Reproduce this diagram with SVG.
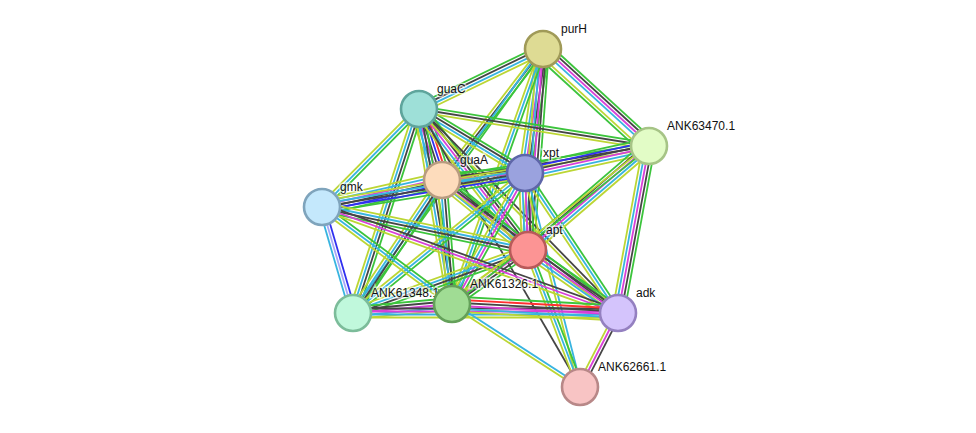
<svg xmlns="http://www.w3.org/2000/svg" xmlns:xlink="http://www.w3.org/1999/xlink" width="976" height="433" viewBox="0 0 976 433">
<style>
use{stroke-width:1.8;fill:none}
.nb{stroke:#3cc43c}.fu{stroke:#ff3030}.co{stroke:#3030f0}.ex{stroke:#454545}.ep{stroke:#d840d8}.db{stroke:#38b4e0}.tm{stroke:#bcd634}.ho{stroke:#a8a8f8}
.node circle{stroke-width:2.6}
.node text{font-family:"Liberation Sans",Arial,sans-serif;font-size:12px;fill:#111;stroke:#fff;stroke-width:3;stroke-opacity:0.6;paint-order:stroke}
</style>
<defs><line id="l" x1="0" y1="0" x2="1" y2="0"/></defs>
<rect width="976" height="433" fill="#fff"/>
<g id="edges">
<g transform="translate(419 109) rotate(-25.8) scale(137.8 1)"><use href="#l" class="nb" y="-4.5"/><use href="#l" class="ex" y="-1.5"/><use href="#l" class="db" y="1.5"/><use href="#l" class="tm" y="4.5"/></g>
<g transform="translate(543 49) rotate(42.5) scale(143.7 1)"><use href="#l" class="nb" y="-7.5"/><use href="#l" class="ex" y="-4.5"/><use href="#l" class="ep" y="-1.5"/><use href="#l" class="db" y="1.5"/><use href="#l" class="tm" y="6.5"/><use href="#l" class="nb" y="9.5"/></g>
<g transform="translate(543 49) rotate(98.3) scale(125.3 1)"><use href="#l" class="nb" y="-6"/><use href="#l" class="ex" y="-3"/><use href="#l" class="ep" y="0"/><use href="#l" class="db" y="3"/><use href="#l" class="tm" y="6"/></g>
<g transform="translate(543 49) rotate(94.3) scale(201.6 1)"><use href="#l" class="nb" y="-6"/><use href="#l" class="ex" y="-3"/><use href="#l" class="ep" y="0"/><use href="#l" class="db" y="3"/><use href="#l" class="tm" y="6"/></g>
<g transform="translate(543 49) rotate(127.6) scale(165.4 1)"><use href="#l" class="nb" y="-3"/><use href="#l" class="ex" y="0"/><use href="#l" class="tm" y="3"/></g>
<g transform="translate(543 49) rotate(109.6) scale(270.8 1)"><use href="#l" class="nb" y="-3"/><use href="#l" class="db" y="0"/><use href="#l" class="tm" y="3"/></g>
<g transform="translate(543 49) rotate(125.7) scale(325.3 1)"><use href="#l" class="nb" y="-1.5"/><use href="#l" class="db" y="1.5"/></g>
<g transform="translate(419 109) rotate(72.05) scale(74.6 1)"><use href="#l" class="nb" y="-9"/><use href="#l" class="fu" y="-6"/><use href="#l" class="co" y="-3"/><use href="#l" class="ex" y="0"/><use href="#l" class="ep" y="3"/><use href="#l" class="db" y="6"/><use href="#l" class="tm" y="9"/></g>
<g transform="translate(419 109) rotate(31.1) scale(123.8 1)"><use href="#l" class="nb" y="-4.5"/><use href="#l" class="ex" y="-1.5"/><use href="#l" class="db" y="1.5"/><use href="#l" class="tm" y="4.5"/></g>
<g transform="translate(419 109) rotate(9.14) scale(233 1)"><use href="#l" class="nb" y="-3"/><use href="#l" class="ex" y="0"/><use href="#l" class="tm" y="3"/></g>
<g transform="translate(419 109) rotate(134.7) scale(137.9 1)"><use href="#l" class="nb" y="-3"/><use href="#l" class="db" y="0"/><use href="#l" class="tm" y="3"/></g>
<g transform="translate(419 109) rotate(107.9) scale(214.4 1)"><use href="#l" class="nb" y="-4.5"/><use href="#l" class="ex" y="-1.5"/><use href="#l" class="db" y="1.5"/><use href="#l" class="tm" y="4.5"/></g>
<g transform="translate(419 109) rotate(80.4) scale(197.8 1)"><use href="#l" class="nb" y="-4.5"/><use href="#l" class="ex" y="-1.5"/><use href="#l" class="db" y="1.5"/><use href="#l" class="tm" y="4.5"/></g>
<g transform="translate(419 109) rotate(52.3) scale(178.2 1)"><use href="#l" class="nb" y="-6"/><use href="#l" class="ex" y="-3"/><use href="#l" class="ep" y="0"/><use href="#l" class="db" y="3"/><use href="#l" class="tm" y="6"/></g>
<g transform="translate(419 109) rotate(45.7) scale(285 1)"><use href="#l" class="ex" y="-1.5"/><use href="#l" class="tm" y="1.5"/></g>
<g transform="translate(419 109) rotate(59.9) scale(321.3 1)"><use href="#l" class="ex" y="0"/></g>
<g transform="translate(442 180) rotate(-4.8) scale(83.3 1)"><use href="#l" class="nb" y="-6"/><use href="#l" class="ex" y="-3"/><use href="#l" class="ep" y="0"/><use href="#l" class="db" y="3"/><use href="#l" class="tm" y="6"/></g>
<g transform="translate(442 180) rotate(167.3) scale(123 1)"><use href="#l" class="nb" y="-7.5"/><use href="#l" class="co" y="-4.5"/><use href="#l" class="ex" y="-1.5"/><use href="#l" class="ep" y="1.5"/><use href="#l" class="db" y="4.5"/><use href="#l" class="tm" y="7.5"/></g>
<g transform="translate(442 180) rotate(-9.33) scale(209.8 1)"><use href="#l" class="nb" y="-3"/><use href="#l" class="ex" y="0"/><use href="#l" class="tm" y="3"/></g>
<g transform="translate(442 180) rotate(39.15) scale(110.9 1)"><use href="#l" class="nb" y="-6"/><use href="#l" class="ex" y="-3"/><use href="#l" class="ep" y="0"/><use href="#l" class="db" y="3"/><use href="#l" class="tm" y="6"/></g>
<g transform="translate(442 180) rotate(123.8) scale(160 1)"><use href="#l" class="nb" y="-4.5"/><use href="#l" class="ex" y="-1.5"/><use href="#l" class="db" y="1.5"/><use href="#l" class="tm" y="4.5"/></g>
<g transform="translate(442 180) rotate(85.4) scale(124.4 1)"><use href="#l" class="nb" y="-4.5"/><use href="#l" class="ex" y="-1.5"/><use href="#l" class="db" y="1.5"/><use href="#l" class="tm" y="4.5"/></g>
<g transform="translate(442 180) rotate(37.07) scale(220.6 1)"><use href="#l" class="nb" y="-3"/><use href="#l" class="ex" y="0"/><use href="#l" class="tm" y="3"/></g>
<g transform="translate(525 173) rotate(-12.28) scale(126.9 1)"><use href="#l" class="nb" y="-7.5"/><use href="#l" class="co" y="-4.5"/><use href="#l" class="ex" y="-1.5"/><use href="#l" class="ep" y="1.5"/><use href="#l" class="db" y="4.5"/><use href="#l" class="tm" y="7.5"/></g>
<g transform="translate(525 173) rotate(87.8) scale(77.1 1)"><use href="#l" class="nb" y="-6"/><use href="#l" class="ex" y="-3"/><use href="#l" class="ep" y="0"/><use href="#l" class="db" y="3"/><use href="#l" class="tm" y="6"/></g>
<g transform="translate(525 173) rotate(170.5) scale(205.8 1)"><use href="#l" class="nb" y="-6"/><use href="#l" class="co" y="-3"/><use href="#l" class="ex" y="0"/><use href="#l" class="db" y="3"/><use href="#l" class="tm" y="6"/></g>
<g transform="translate(525 173) rotate(140.85) scale(221.8 1)"><use href="#l" class="nb" y="-3"/><use href="#l" class="db" y="0"/><use href="#l" class="tm" y="3"/></g>
<g transform="translate(525 173) rotate(119.1) scale(150 1)"><use href="#l" class="nb" y="-4.5"/><use href="#l" class="ep" y="-1.5"/><use href="#l" class="db" y="1.5"/><use href="#l" class="tm" y="4.5"/></g>
<g transform="translate(525 173) rotate(56.4) scale(168.1 1)"><use href="#l" class="nb" y="-3"/><use href="#l" class="db" y="0"/><use href="#l" class="tm" y="3"/></g>
<g transform="translate(525 173) rotate(75.6) scale(221 1)"><use href="#l" class="db" y="-1.5"/><use href="#l" class="tm" y="1.5"/></g>
<g transform="translate(528 250) rotate(-40.7) scale(159.6 1)"><use href="#l" class="nb" y="-6"/><use href="#l" class="ex" y="-3"/><use href="#l" class="ep" y="0"/><use href="#l" class="db" y="3"/><use href="#l" class="tm" y="6"/></g>
<g transform="translate(528 250) rotate(191.8) scale(210.4 1)"><use href="#l" class="nb" y="-4.5"/><use href="#l" class="ex" y="-1.5"/><use href="#l" class="db" y="1.5"/><use href="#l" class="tm" y="4.5"/></g>
<g transform="translate(528 250) rotate(160.2) scale(186 1)"><use href="#l" class="nb" y="-4.5"/><use href="#l" class="ex" y="-1.5"/><use href="#l" class="db" y="1.5"/><use href="#l" class="tm" y="4.5"/></g>
<g transform="translate(528 250) rotate(144.6) scale(93.2 1)"><use href="#l" class="nb" y="-4.5"/><use href="#l" class="ex" y="-1.5"/><use href="#l" class="ep" y="1.5"/><use href="#l" class="tm" y="4.5"/></g>
<g transform="translate(528 250) rotate(35) scale(109.9 1)"><use href="#l" class="nb" y="-6"/><use href="#l" class="ex" y="-3"/><use href="#l" class="ep" y="0"/><use href="#l" class="db" y="3"/><use href="#l" class="tm" y="6"/></g>
<g transform="translate(528 250) rotate(69.2) scale(146.5 1)"><use href="#l" class="nb" y="-3"/><use href="#l" class="db" y="0"/><use href="#l" class="tm" y="3"/></g>
<g transform="translate(322 207) rotate(73.7) scale(110.4 1)"><use href="#l" class="co" y="-3"/><use href="#l" class="ho" y="0"/><use href="#l" class="db" y="3"/></g>
<g transform="translate(322 207) rotate(36.7) scale(162.2 1)"><use href="#l" class="nb" y="-3"/><use href="#l" class="db" y="0"/><use href="#l" class="tm" y="3"/></g>
<g transform="translate(322 207) rotate(19.7) scale(314.4 1)"><use href="#l" class="ex" y="-3"/><use href="#l" class="ep" y="0"/><use href="#l" class="tm" y="3"/></g>
<g transform="translate(353 313) rotate(-5.2) scale(99.4 1)"><use href="#l" class="nb" y="-6"/><use href="#l" class="ex" y="-3"/><use href="#l" class="ep" y="0"/><use href="#l" class="db" y="3"/><use href="#l" class="tm" y="6"/></g>
<g transform="translate(353 313) rotate(0) scale(265 1)"><use href="#l" class="ex" y="-4.5"/><use href="#l" class="ep" y="-1.5"/><use href="#l" class="db" y="1.5"/><use href="#l" class="tm" y="4.5"/></g>
<g transform="translate(452 304) rotate(3.1) scale(166.2 1)"><use href="#l" class="nb" y="-7.5"/><use href="#l" class="fu" y="-4.5"/><use href="#l" class="ex" y="-1.5"/><use href="#l" class="ep" y="1.5"/><use href="#l" class="db" y="4.5"/><use href="#l" class="tm" y="7.5"/></g>
<g transform="translate(452 304) rotate(33) scale(152.6 1)"><use href="#l" class="db" y="-1.5"/><use href="#l" class="tm" y="1.5"/></g>
<g transform="translate(618 313) rotate(117.2) scale(83.2 1)"><use href="#l" class="ex" y="-3"/><use href="#l" class="ep" y="0"/><use href="#l" class="tm" y="3"/></g>
<g transform="translate(649 146) rotate(100.5) scale(169.9 1)"><use href="#l" class="nb" y="-6"/><use href="#l" class="ex" y="-3"/><use href="#l" class="ep" y="0"/><use href="#l" class="db" y="3"/><use href="#l" class="tm" y="6"/></g>
<g transform="translate(649 146) rotate(141.3) scale(252.5 1)"><use href="#l" class="nb" y="-1.5"/><use href="#l" class="tm" y="1.5"/></g>
</g>
<g id="purH" class="node"><circle cx="543" cy="49" r="18" fill="#dedb94" stroke="#a09a58"/><text x="561" y="33">purH</text></g>
<g id="guaC" class="node"><circle cx="419" cy="109" r="18" fill="#9ee0d8" stroke="#5fa59c"/><text x="437" y="93">guaC</text></g>
<g id="ANK63470.1" class="node"><circle cx="649" cy="146" r="18" fill="#e2fcc6" stroke="#a6c486"/><text x="667" y="130">ANK63470.1</text></g>
<g id="xpt" class="node"><circle cx="525" cy="173" r="18" fill="#9aa2de" stroke="#5e66a8"/><text x="543" y="157">xpt</text></g>
<g id="guaA" class="node"><circle cx="442" cy="180" r="18" fill="#fddcbc" stroke="#b89c80"/><text x="460" y="164">guaA</text></g>
<g id="gmk" class="node"><circle cx="322" cy="207" r="18" fill="#c4e8fc" stroke="#7fa4bc"/><text x="340" y="191">gmk</text></g>
<g id="apt" class="node"><circle cx="528" cy="250" r="18" fill="#fc9494" stroke="#b85a5a"/><text x="546" y="234">apt</text></g>
<g id="ANK61348.1" class="node"><circle cx="353" cy="313" r="18" fill="#c0f8dc" stroke="#7cbc9a"/><text x="371" y="297">ANK61348.1</text></g>
<g id="ANK61326.1" class="node"><circle cx="452" cy="304" r="18" fill="#a0dc94" stroke="#64a05a"/><text x="470" y="288">ANK61326.1</text></g>
<g id="adk" class="node"><circle cx="618" cy="313" r="18" fill="#d4c4fc" stroke="#9480c0"/><text x="636" y="297">adk</text></g>
<g id="ANK62661.1" class="node"><circle cx="580" cy="387" r="18" fill="#f8c4c4" stroke="#b88888"/><text x="598" y="371">ANK62661.1</text></g>
</svg>
